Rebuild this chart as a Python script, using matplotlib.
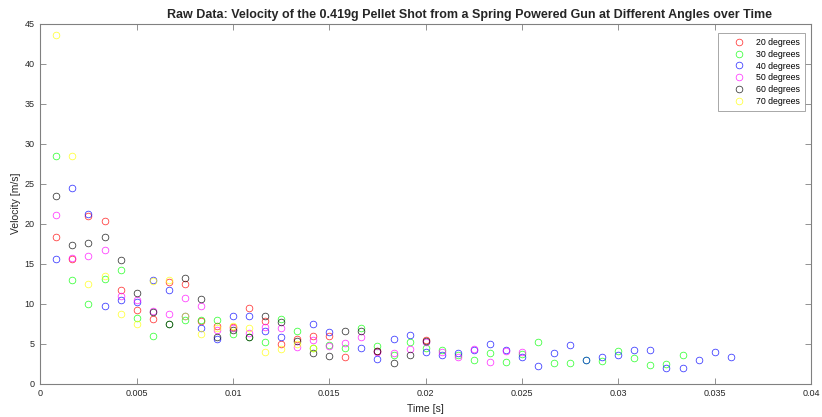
import numpy as np
import matplotlib
matplotlib.use("Agg")
import matplotlib.pyplot as plt

plt.rcParams['font.family'] = ['Liberation Sans', 'DejaVu Sans']

nan = np.nan
dt = 1.0 / 1200.0

red = [18.3, 15.6, 21.0, 20.3, 11.7, 9.2, 8.1, 12.7, 12.45, 7.8, 7.25, 7.1, 9.4, 7.8,
       4.9, 5.6, 5.9, 6.0, 3.3, nan, 4.1, nan, nan, 5.4]
green = [28.5, 12.9, 10.0, 13.1, 14.2, 8.2, 5.9, 7.4, 7.9, 7.9, 8.0, 6.2, 5.8, 5.2,
         8.05, 6.55, 4.5, 4.8, 4.5, 6.9, 4.7, 3.6, 5.25, 4.4, 4.2, 3.55, 2.9, 3.8, 2.7,
         3.7, 5.25, 2.6, 2.6, 2.9, 2.85, 4.1, 3.2, 2.35, 2.4, 3.6]
blue = [15.6, 24.4, 21.2, 9.7, 10.4, 10.2, 12.9, 11.75, 8.4, 7.0, 5.6, 8.4, 8.45, 6.55,
        5.8, nan, 7.4, 6.45, nan, 4.4, 3.05, 5.6, 6.1, 3.95, 3.55, 3.8, 4.2, 4.9, 4.2,
        3.3, 2.25, 3.8, 4.85, 3.0, 3.3, 3.55, 4.15, 4.15, 2.0, 1.9, 2.9, 3.95, 3.3]
magenta = [21.1, 15.7, 16.0, 16.7, 11.0, 10.4, 9.1, 8.7, 10.7, 9.75, 6.7, 6.9, 6.3, 7.05,
           7.0, 4.6, 5.5, 4.65, 5.1, 5.8, 4.0, 3.8, 4.3, 5.25, 3.9, 3.3, 4.35, 2.7, 4.1, 3.9]
black = [23.4, 17.3, 17.6, 18.3, 15.4, 11.3, 8.9, 7.4, 13.25, 10.6, 5.8, 6.7, 5.8, 8.45,
         7.7, 5.3, 3.8, 3.5, 6.6, 6.6, 4.1, 2.55, 3.55, 5.35]
yellow = [43.6, 28.4, 12.5, 13.4, 8.7, 7.5, 12.8, 12.9, 8.5, 6.2, 7.0, 7.25, 6.9, 4.0,
          4.35, 5.0, 4.4]

series = [("20 degrees", red, (1, 0, 0)),
          ("30 degrees", green, (0, 1, 0)),
          ("40 degrees", blue, (0, 0, 1)),
          ("50 degrees", magenta, (1, 0, 1)),
          ("60 degrees", black, (0, 0, 0)),
          ("70 degrees", yellow, (1, 1, 0))]

xticks = [0, 0.005, 0.01, 0.015, 0.02, 0.025, 0.03, 0.035, 0.04]
xticklabels = ["0", "0.005", "0.01", "0.015", "0.02", "0.025", "0.03", "0.035", "0.04"]
yticks = [0, 5, 10, 15, 20, 25, 30, 35, 40, 45]

fig = plt.figure(figsize=(8.22, 4.17), dpi=100)
ax = fig.add_axes([0.049, 0.080, 0.9376, 0.8633])

for label, vals, col in series:
    v = np.array(vals, dtype=float)
    t = np.arange(1, len(v) + 1) * dt
    ax.plot(t, v, linestyle='none', marker='o', markersize=4.8, markerfacecolor='none',
            markeredgecolor=col, markeredgewidth=0.55, alpha=0.8, label=label)

ax.set_xlim(0, 0.04)
ax.set_ylim(0, 45)
ax.set_xticks(xticks)
ax.set_xticklabels(xticklabels)
ax.set_yticks(yticks)
ax.tick_params(direction='in', length=4, width=0.6, colors='#808080', labelcolor='#262626',
               labelsize=6.5, top=True, right=True, pad=4)
for s in ax.spines.values():
    s.set_color('#808080')
    s.set_linewidth(0.8)

ax.set_title("Raw Data: Velocity of the 0.419g Pellet Shot from a Spring Powered Gun at Different Angles over Time",
             fontsize=9, fontweight='bold', color='#262626', pad=4, x=0.5575)
ax.set_xlabel("Time [s]", fontsize=7.5, color='#262626', labelpad=4)
ax.set_ylabel("Velocity [m/s]", fontsize=7.5, color='#262626', labelpad=3)

leg = ax.legend(loc='upper right', bbox_to_anchor=(0.992, 0.973), borderaxespad=0,
                fontsize=6.3, frameon=True, fancybox=False, edgecolor='#808080',
                handletextpad=0.25, borderpad=0.5, labelspacing=0.33, handlelength=3.6)
leg.get_frame().set_linewidth(0.6)

fig.savefig("out.png", dpi=100)
